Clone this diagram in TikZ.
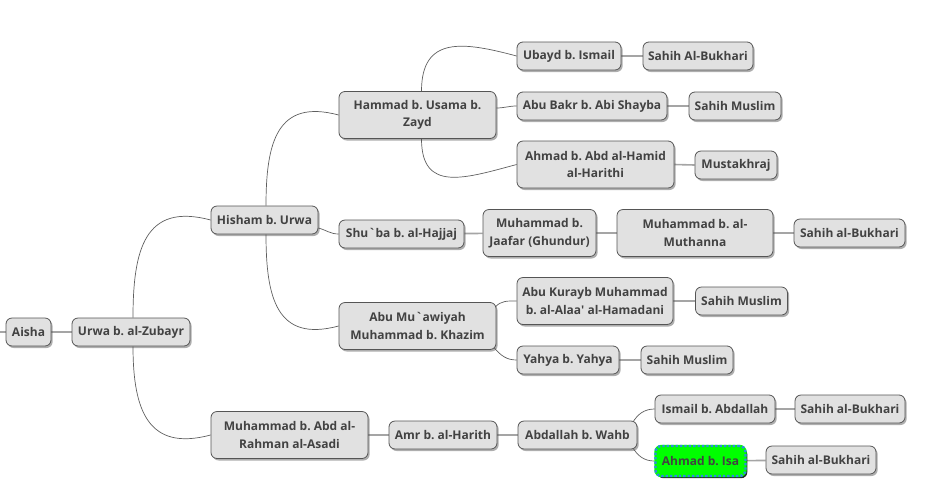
\documentclass[tikz,border=0pt]{standalone}
\usepackage{fontspec}
\setmainfont{Open Sans}
\usetikzlibrary{shadows,backgrounds}
\definecolor{nodefill}{RGB}{225,225,225}
\definecolor{nodeline}{RGB}{85,85,85}
\definecolor{nodetext}{RGB}{66,66,66}
\definecolor{lightline}{RGB}{165,165,165}
\definecolor{darkline}{RGB}{95,95,95}
\definecolor{hlfill}{RGB}{0,255,0}
\definecolor{hlline}{RGB}{45,140,225}
\frenchspacing
\begin{document}
\begin{tikzpicture}[x=1pt,y=-1pt,
  basebox/.style={rectangle, rounded corners=6pt, text=nodetext,
    font=\fontsize{12}{17.5}\selectfont\bfseries, align=center,
    minimum height=28pt, inner xsep=2pt, inner ysep=3pt},
  topic/.style={basebox, fill=nodefill, draw=nodeline, line width=0.8pt,
    drop shadow={shadow xshift=1.6pt, shadow yshift=-2pt, fill=black!70, opacity=0.45}},
  hltopic/.style={basebox, fill=hlfill, draw=hlline, line width=2.4pt,
    dash pattern=on 2.4pt off 2pt, minimum height=30pt,
    drop shadow={shadow xshift=1.8pt, shadow yshift=-2.2pt, fill=black, opacity=0.85},
    preaction={draw=hlfill, solid, line width=2.4pt}},
  tall/.style={minimum height=47pt},
  straight/.style={draw=lightline, line width=1.6pt},
  branch/.style={draw=darkline, line width=0.7pt},
  rise/.style={out=90, in=165, looseness=1.4},
  fall/.style={out=-90, in=195, looseness=1.4},
]
\useasboundingbox (0,0) rectangle (932,491);

% level 0-1
\coordinate (stub) at (0,332);
\node[topic, minimum width=45pt] (aisha) at (28.5,332) {Aisha};
\node[topic, minimum width=118pt] (urwa) at (131,332) {Urwa b. al-Zubayr};
% level 2
\node[topic, minimum width=107pt] (hisham) at (264.5,220) {Hisham b. Urwa};
\node[topic, tall, minimum width=157pt] (mabd) at (289.5,435) {Muhammad b. Abd al-\\Rahman al-Asadi};
% level 3
\node[topic, tall, minimum width=157pt] (hammad) at (417.5,115) {Hammad b. Usama b.\\Zayd};
\node[topic, minimum width=125pt] (shuba) at (401.5,234) {Shu\textasciigrave ba b. al-Hajjaj};
\node[topic, tall, minimum width=157pt] (abumu) at (417.5,326) {Abu Mu\textasciigrave awiyah\\Muhammad b. Khazim};
\node[topic, minimum width=108pt] (amr) at (443,435) {Amr b. al-Harith};
% level 4
\node[topic, minimum width=104pt] (ubayd) at (569,56) {Ubayd b. Ismail};
\node[topic, minimum width=110pt] (sbA) at (698,56) {Sahih Al-Bukhari};
\node[topic, minimum width=150pt] (abubakr) at (592,106) {Abu Bakr b. Abi Shayba};
\node[topic, minimum width=92pt] (smA) at (735,106) {Sahih Muslim};
\node[topic, tall, minimum width=157pt] (ahmadh) at (595.5,164.5) {Ahmad b. Abd al-Hamid\\al-Harithi};
\node[topic, minimum width=82pt] (must) at (736,165) {Mustakhraj};
\node[topic, tall, minimum width=113pt] (jaafar) at (539.5,233) {Muhammad b.\\Jaafar (Ghundur)};
\node[topic, tall, minimum width=156pt] (muthanna) at (695,233) {Muhammad b. al-\\Muthanna};
\node[topic, minimum width=111pt] (sbB) at (849.5,233) {Sahih al-Bukhari};
\node[topic, tall, minimum width=156pt] (kurayb) at (595,301) {Abu Kurayb Muhammad\\b. al-Alaa\textquotesingle\ al-Hamadani};
\node[topic, minimum width=92pt] (smB) at (741.5,301) {Sahih Muslim};
\node[topic, minimum width=102pt] (yahya) at (568,360) {Yahya b. Yahya};
\node[topic, minimum width=92pt] (smC) at (687,360) {Sahih Muslim};
\node[topic, minimum width=119pt] (wahb) at (577.5,435) {Abdallah b. Wahb};
\node[topic, minimum width=120pt] (ismail) at (715,409) {Ismail b. Abdallah};
\node[topic, minimum width=110pt] (sbC) at (850,409) {Sahih al-Bukhari};
\node[hltopic, minimum width=90pt] (ahmadi) at (700.5,461) {Ahmad b. Isa};
\node[topic, minimum width=110pt] (sbD) at (821,460) {Sahih al-Bukhari};

\begin{pgfonlayer}{background}
\draw[straight] (stub) -- (aisha.west);
\draw[straight] (aisha) -- (urwa);
\draw[branch] ([xshift=2pt]urwa.north) to[rise] (hisham.west);
\draw[branch] ([xshift=2pt]urwa.south) to[fall] (mabd.west);
\draw[branch] ([xshift=1.5pt]hisham.north) to[rise] (hammad.west);
\draw[branch] ([yshift=-8pt]hisham.east) to[out=-15, in=180] (shuba.west);
\draw[branch] ([xshift=1.5pt]hisham.south) to[fall] (abumu.west);
\draw[branch] ([xshift=4pt]hammad.north) to[rise] (ubayd.west);
\draw[branch] ([yshift=7pt]hammad.east) to[out=0, in=180] (abubakr.west);
\draw[branch] ([xshift=4pt]hammad.south) to[fall] (ahmadh.west);
\draw[straight] (ubayd) -- (sbA);
\draw[straight] (abubakr) -- (smA);
\draw[straight] (ahmadh.east) -- (must.west);
\draw[straight] (shuba) -- (jaafar);
\draw[straight] (jaafar) -- (muthanna);
\draw[straight] (muthanna) -- (sbB);
\draw[branch] ([xshift=-1pt,yshift=19pt]abumu.east) to[out=50, in=180] (kurayb.west);
\draw[branch] ([xshift=-2pt,yshift=-22pt]abumu.east) to[out=-50, in=180] (yahya.west);
\draw[straight] (kurayb) -- (smB);
\draw[straight] (yahya) -- (smC);
\draw[straight] (mabd) -- (amr);
\draw[straight] (amr) -- (wahb);
\draw[branch] ([xshift=-5pt,yshift=12pt]wahb.east) to[out=60, in=180] (ismail.west);
\draw[branch] ([xshift=-5pt,yshift=-12pt]wahb.east) to[out=-60, in=180] (ahmadi.west);
\draw[straight] (ismail) -- (sbC);
\draw[straight] (ahmadi) -- (sbD);
\end{pgfonlayer}
\end{tikzpicture}
\end{document}
